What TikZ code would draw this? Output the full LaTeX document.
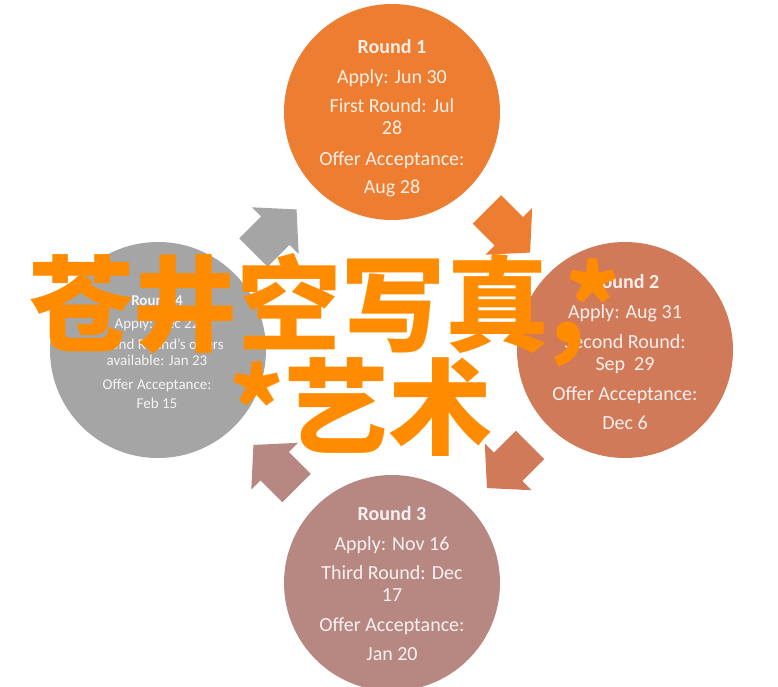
\documentclass[tikz,border=0pt]{standalone}
\usepackage{fontspec}
\setmainfont{Carlito}
\newfontfamily\cjk{Noto Sans CJK SC}
\usetikzlibrary{calc}
\definecolor{cA}{RGB}{237,125,49}
\definecolor{cB}{RGB}{208,122,90}
\definecolor{cC}{RGB}{183,135,130}
\definecolor{cD}{RGB}{165,165,165}
\definecolor{bigorange}{RGB}{255,140,0}
\tikzset{
  roundcircle/.style={circle, fill=#1, minimum size=216pt, inner sep=0pt},
  roundtext/.style={align=center, text=white!88!#1, font=\fontsize{20}{22}\selectfont, inner sep=0pt},
  smalltext/.style={align=center, text=white!88!#1, font=\fontsize{15}{16}\selectfont, inner sep=0pt},
  bigtext/.style={text=bigorange, font=\cjk\bfseries\fontsize{104}{104}\selectfont, inner sep=0pt, anchor=base west},
}
\newcommand\cyclearrow[3]{%
  \fill[#1, shift={#2}, rotate=#3] (-30.5,-20) -- (0.5,-20) -- (0.5,-33) -- (30.5,0) -- (0.5,33) -- (0.5,20) -- (-30.5,20) -- cycle;}
\begin{document}
\begin{tikzpicture}[x=1pt,y=-1pt]
\useasboundingbox (0,0) rectangle (778,687);
\fill[white] (0,0) rectangle (778,687);
% circles
\node[roundcircle=cA] (r1) at (392,112) {};
\node[roundcircle=cB] (r2) at (625,350) {};
\node[roundcircle=cC] (r3) at (392,583) {};
\node[roundcircle=cD] (r4) at (158,350) {};
% cycle arrows
\cyclearrow{cD}{($(r4.center)!0.5!(r1.center)$)}{45}
\cyclearrow{cA}{($(r1.center)!0.5!(r2.center)$)}{-45}
\cyclearrow{cB}{($(r2.center)!0.5!(r3.center)$)}{-135}
\cyclearrow{cC}{($(r3.center)!0.5!(r4.center)$)}{135}
% texts
\node[roundtext=cA] (t1) at (392,118) {\textbf{Round 1}\\[8pt] Apply: Jun 30\\[7pt] First Round: Jul\\ 28\\[9pt] Offer Acceptance:\\[6pt] Aug 28};
\node[roundtext=cB] (t2) at (625,352) {\textbf{Round 2}\\[8pt] Apply: Aug 31\\[8pt] Second Round:\\ Sep\ \ 29\\[8pt] Offer Acceptance:\\[7pt] Dec 6};
\node[roundtext=cC] (t3) at (392,584) {\textbf{Round 3}\\[8pt] Apply: Nov 16\\[7pt] Third Round: Dec\\ 17\\[8pt] Offer Acceptance:\\[7pt] Jan 20};
\node[smalltext=cD] (t4) at (157,352) {\textbf{Round 4}\\[7pt] Apply: Dec 22\\[5pt] Second Round's offers\\ available: Jan 23\\[8pt] Offer Acceptance:\\[3pt] Feb 15};
% overlay text
\node[bigtext] (w1) at (29,343) {苍井空写真,*};
\node[bigtext] (w2) at (229,446) {*艺术};
\end{tikzpicture}
\end{document}
